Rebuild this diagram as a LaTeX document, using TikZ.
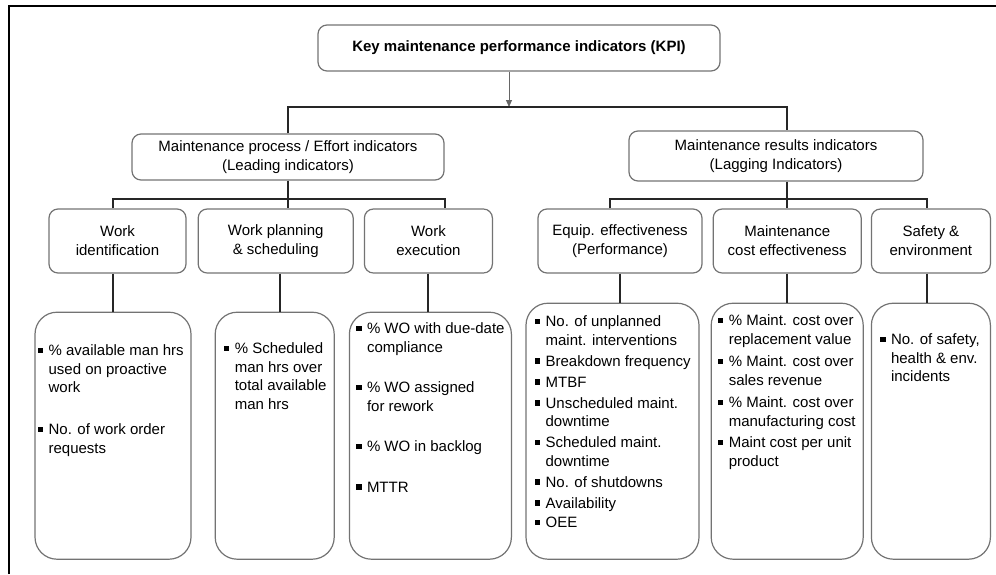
\documentclass[tikz,border=0pt]{standalone}
\usepackage{fontspec}
\setmainfont{Liberation Sans}
\usetikzlibrary{arrows.meta, positioning}
\newcommand{\kpibul}{\makebox[11pt][l]{\rule[2.5pt]{5.5pt}{5.5pt}}}
\newcommand{\kpiind}{\hspace*{11pt}}

\begin{document}
\begin{tikzpicture}[x=1pt, y=-1pt,
  box/.style={draw=black!55, line width=1.2pt, rounded corners=9pt, align=center, inner sep=0pt, font=\fontsize{15}{19}\selectfont},
  listbox/.style={draw=black!55, line width=1.2pt, rounded corners=22pt, inner sep=0pt},
  list/.style={align=left, inner sep=0pt, font=\fontsize{15}{18.5}\selectfont},
  conn/.style={line width=2pt, black!85},
  arr/.style={-{Triangle[length=7pt, width=6pt]}, line width=1pt, black!60}]
\useasboundingbox (0,0) rectangle (996,574);
\draw[line width=2.2pt] (9,574) -- (9,6) -- (996,6);

\node[box, minimum width=402pt, minimum height=46pt, font=\fontsize{15}{19}\selectfont\bfseries] (kpi) at (519,48) {Key maintenance performance indicators (KPI)};
\node[box, minimum width=312pt, minimum height=46pt] (proc) at (288,157) {Maintenance process / Effort indicators\\(Leading indicators)};
\node[box, minimum width=294pt, minimum height=50pt] (res) at (776,156) {Maintenance results indicators\\(Lagging Indicators)};

% leading side
\node[box, minimum width=137pt, minimum height=64pt] (wid) at (117.5,241) {Work\\identification};
\node[box, minimum width=155pt, minimum height=64pt, right=11pt of wid] (wps) {Work planning\\\& scheduling};
\node[box, minimum width=128pt, minimum height=64pt, right=10pt of wps] (wex) {Work\\execution};

% lagging side
\node[box, minimum width=164pt, minimum height=64pt] (eqp) at (620,241) {Equip. effectiveness\\(Performance)};
\node[box, minimum width=148pt, minimum height=64pt, right=10pt of eqp] (cost) {Maintenance\\cost effectiveness};
\node[box, minimum width=119pt, minimum height=64pt, right=9pt of cost] (saf) {Safety \&\\environment};

% indicator boxes
\node[listbox, minimum width=156pt, minimum height=247pt, below=38pt of wid, xshift=-4.5pt] (wbox) {};
\node[listbox, minimum width=119pt, minimum height=247pt, below=38pt of wps, xshift=-1pt] (pbox) {};
\node[listbox, minimum width=162pt, minimum height=247pt, below=38pt of wex, xshift=2pt] (xbox) {};
\node[listbox, minimum width=173pt, minimum height=256pt, below=29pt of eqp, xshift=-7.5pt] (ebox) {};
\node[listbox, minimum width=152pt, minimum height=256pt, below=29pt of cost] (cbox) {};
\node[listbox, minimum width=119pt, minimum height=256pt, below=29pt of saf] (sbox) {};

\node[list, below right=33pt and 3pt of wbox.north west] (wlist) {\kpibul\% available man hrs\\\kpiind used on proactive\\\kpiind work\\[23.5pt]\kpibul No. of work order\\\kpiind requests};
\node[list, below right=31pt and 9pt of pbox.north west] (plist) {\kpibul\% Scheduled\\\kpiind man hrs over\\\kpiind total available\\\kpiind man hrs};
\node[list, below right=11pt and 7pt of xbox.north west] (xlist) {\kpibul\% WO with due-date\\\kpiind compliance\\[22pt]\kpibul\% WO assigned\\\kpiind for rework\\[22pt]\kpibul\% WO in backlog\\[22pt]\kpibul MTTR};
\node[list, below right=13pt and 9pt of ebox.north west] (elist) {\kpibul No. of unplanned\\\kpiind maint. interventions\\[2.5pt]\kpibul Breakdown frequency\\[2.5pt]\kpibul MTBF\\[2.5pt]\kpibul Unscheduled maint.\\\kpiind downtime\\[2.5pt]\kpibul Scheduled maint.\\\kpiind downtime\\[2.5pt]\kpibul No. of shutdowns\\[2.5pt]\kpibul Availability\\[1pt]\kpibul OEE};
\node[list, below right=12pt and 7pt of cbox.north west] (clist) {\kpibul\% Maint. cost over\\\kpiind replacement value\\[4pt]\kpibul\% Maint. cost over\\\kpiind sales revenue\\[4pt]\kpibul\% Maint. cost over\\\kpiind manufacturing cost\\[3pt]\kpibul Maint cost per unit\\\kpiind product};
\node[list, below right=31pt and 9pt of sbox.north west] (slist) {\kpibul No. of safety,\\\kpiind health \& env.\\\kpiind incidents};

% connectors
\coordinate (split) at (509,107);
\coordinate (pbar) at (288,199);
\coordinate (rbar) at (786,199);
\draw[arr] (kpi.south -| split) -- (split);
\draw[conn] (proc.north) |- (split) -| (res.north -| cost.north);
\draw[conn] (proc.south) -- (wps.north -| proc.south);
\draw[conn] (wid.north -| wbox.north) |- (pbar) -| (wex.north -| proc.east);
\draw[conn] (res.south -| cost.north) -- (cost.north);
\draw[conn] ([xshift=-10pt]eqp.north) |- (rbar) -| ([xshift=-4pt]saf.north);
\draw[conn] (wid.south -| wbox.north) -- (wbox.north);
\draw[conn] ([xshift=4.5pt]wps.south) -- ([xshift=4.5pt]wps.south |- pbox.north);
\draw[conn] (wex.south) -- (wex.south |- xbox.north);
\draw[conn] (eqp.south) -- (eqp.south |- ebox.north);
\draw[conn] (cost.south) -- (cost.south |- cbox.north);
\draw[conn] ([xshift=-4pt]saf.south) -- ([xshift=-4pt]saf.south |- sbox.north);
\end{tikzpicture}
\end{document}
